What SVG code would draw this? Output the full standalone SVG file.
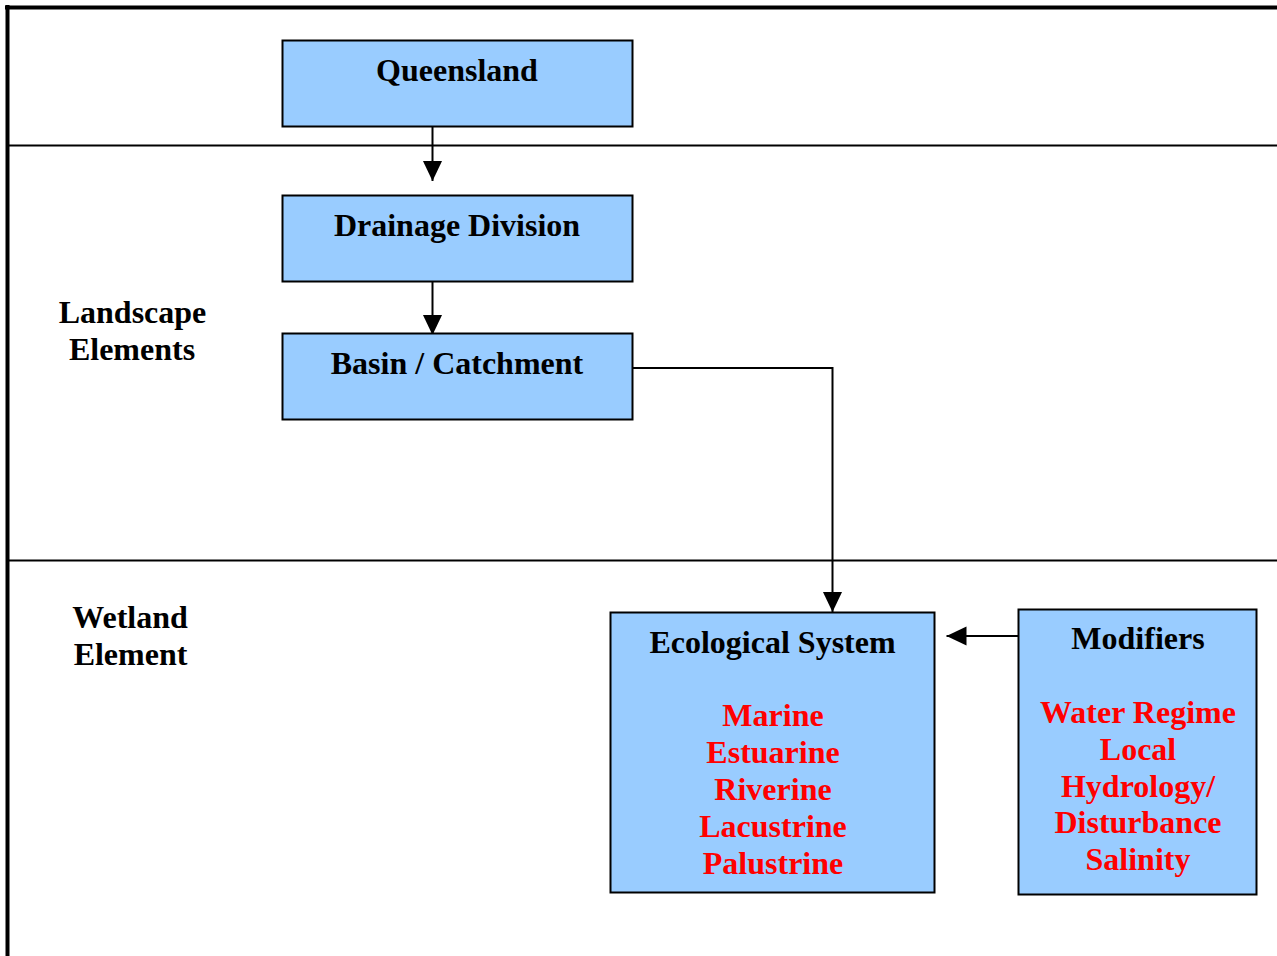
<svg xmlns="http://www.w3.org/2000/svg" width="1277" height="956" viewBox="0 0 1277 956">
<style>
.box{fill:#99CCFF;stroke:#000;stroke-width:2}
.t{font-family:"Liberation Serif","Times New Roman",serif;font-weight:bold;font-size:32px;text-anchor:middle;fill:#000}
.r{fill:#FF0000}
.ln{stroke:#000;stroke-width:2;fill:none}
</style>
<defs>
<marker id="ah" markerWidth="20" markerHeight="21" refX="21" refY="10" orient="auto" markerUnits="userSpaceOnUse" viewBox="0 0 21 20">
<path d="M0,0 L21,10 L0,20 Z" fill="#000"/>
</marker>
</defs>
<rect x="0" y="0" width="1277" height="956" fill="#fff"/>
<g id="frame">
<line x1="5" y1="7.5" x2="1277" y2="7.5" stroke="#000" stroke-width="4"/>
<line x1="7.5" y1="5" x2="7.5" y2="956" stroke="#000" stroke-width="4"/>
<line x1="9" y1="145.5" x2="1277" y2="145.5" class="ln"/>
<line x1="9" y1="560.5" x2="1277" y2="560.5" class="ln"/>
</g>
<g id="labels">
<text class="t" x="132.5" y="323">Landscape</text>
<text class="t" x="132" y="360">Elements</text>
<text class="t" x="130" y="628">Wetland</text>
<text class="t" x="130.5" y="665">Element</text>
</g>
<g id="connectors">
<line class="ln" x1="432.5" y1="127" x2="432.5" y2="181" marker-end="url(#ah)"/>
<line class="ln" x1="432.5" y1="282" x2="432.5" y2="335" marker-end="url(#ah)"/>
<polyline class="ln" points="632,368 832.5,368 832.5,612" marker-end="url(#ah)"/>
<line class="ln" x1="1018" y1="636" x2="946.5" y2="636" marker-end="url(#ah)"/>
</g>
<g id="queensland">
<rect class="box" x="282.5" y="40.5" width="350" height="86"/>
<text class="t" x="457" y="81">Queensland</text>
</g>
<g id="drainage">
<rect class="box" x="282.5" y="195.5" width="350" height="86"/>
<text class="t" x="457" y="236">Drainage Division</text>
</g>
<g id="basin">
<rect class="box" x="282.5" y="333.5" width="350" height="86"/>
<text class="t" x="457" y="374">Basin / Catchment</text>
</g>
<g id="ecological">
<rect class="box" x="610.5" y="612.5" width="324" height="280"/>
<text class="t" x="772.5" y="653">Ecological System</text>
<text class="t r" x="773" y="726">Marine</text>
<text class="t r" x="773" y="763">Estuarine</text>
<text class="t r" x="773" y="800">Riverine</text>
<text class="t r" x="773" y="837">Lacustrine</text>
<text class="t r" x="773" y="874">Palustrine</text>
</g>
<g id="modifiers">
<rect class="box" x="1018.5" y="609.5" width="238" height="285"/>
<text class="t" x="1138" y="649">Modifiers</text>
<text class="t r" x="1138" y="723">Water Regime</text>
<text class="t r" x="1138" y="760">Local</text>
<text class="t r" x="1138" y="797">Hydrology/</text>
<text class="t r" x="1138" y="833">Disturbance</text>
<text class="t r" x="1138" y="870">Salinity</text>
</g>
</svg>
